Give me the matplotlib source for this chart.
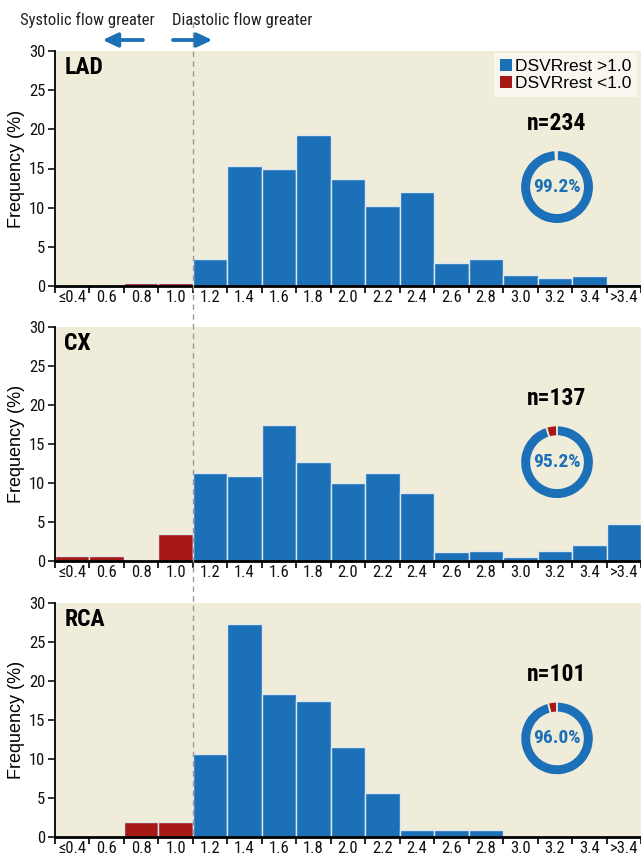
import numpy as np
import matplotlib
matplotlib.use('Agg')
import matplotlib.pyplot as plt
from matplotlib.patches import Patch
from matplotlib.lines import Line2D
from matplotlib import font_manager

# bins of DSVRrest, labels sit in the middle of each bin
bin_labels = ['≤0.4', '0.6', '0.8', '1.0', '1.2', '1.4', '1.6', '1.8', '2.0',
              '2.2', '2.4', '2.6', '2.8', '3.0', '3.2', '3.4', '>3.4']

# frequency (%) per bin
lad_pct = [0, 0, 0.43, 0.43, 3.42, 15.38, 14.96, 19.23, 13.68, 10.26, 11.97,
           3.0, 3.42, 1.4, 1.0, 1.3, 0.2]
cx_pct = [0.6, 0.6, 0, 3.4, 11.3, 10.8, 17.4, 12.65, 10.0, 11.3, 8.7,
          1.1, 1.25, 0.5, 1.25, 2.0, 4.67]
rca_pct = [0, 0, 1.9, 1.9, 10.6, 27.4, 18.4, 17.4, 11.5, 5.66, 0.86,
           0.86, 0.9, 0, 0, 0, 0]

vessels = ['LAD', 'CX', 'RCA']
n_values = [234, 137, 101]
pct_above = [99.2, 95.2, 96.0]
n_below = 4  # first four bins are DSVRrest < 1.0

BLUE = '#1b70b7'
RED = '#a61916'
BG = '#f0ecda'

names = {f.name for f in font_manager.fontManager.ttflist}
narrow = 'DejaVu Sans'
for cand in ['Roboto Condensed', 'Archivo Narrow', 'PT Sans Narrow', 'Barlow Condensed',
             'Open Sans Condensed', 'Liberation Sans Narrow', 'Arial Narrow',
             'IBM Plex Sans Condensed', 'Fira Sans Condensed', 'Encode Sans Condensed']:
    if cand in names:
        narrow = cand
        break
wide = 'Liberation Sans' if 'Liberation Sans' in names else 'DejaVu Sans'
plt.rcParams['font.family'] = [narrow, 'DejaVu Sans']

W, H = 641, 860
fig = plt.figure(figsize=(W / 100, H / 100), dpi=100)

# axes boxes in pixels: (top, bottom)
boxes = [(51, 286), (326.7, 560.7), (603.3, 836.7)]
left_px, right_px = 55, 641

axes = []
for (top, bot), name, vals, n, pct in zip(boxes, vessels, [lad_pct, cx_pct, rca_pct],
                                          n_values, pct_above):
    ax = fig.add_axes([left_px / W, 1 - bot / H, (right_px - left_px) / W, (bot - top) / H])
    ax.set_facecolor(BG)
    x = np.arange(len(bin_labels))
    colors = [RED if i < n_below else BLUE for i in x]
    ax.bar(x + 0.5, vals, width=1, color=colors, edgecolor='#dfe7ee', linewidth=1)
    ax.set_xlim(0, len(bin_labels))
    ax.set_ylim(0, 30)
    ax.set_yticks(range(0, 31, 5))
    ax.set_xticks(np.arange(len(bin_labels) + 1))
    ax.set_xticklabels([])
    ax.set_xticks(x + 0.5, minor=True)
    ax.set_xticklabels(bin_labels, minor=True)
    ax.tick_params(axis='x', which='major', length=5, width=1.2, direction='out')
    ax.tick_params(axis='x', which='minor', length=0, labelsize=12, pad=3, colors='#111111')
    ax.tick_params(axis='y', length=5, width=1.2, labelsize=12, pad=2, colors='#111111')
    for s in ['top', 'right']:
        ax.spines[s].set_visible(False)
    ax.spines['left'].set_linewidth(1.3)
    ax.spines['bottom'].set_linewidth(2)
    ax.set_ylabel('Frequency (%)', family=wide, fontsize=13, labelpad=3)

    ax.text(0.016, 0.93, name, transform=ax.transAxes, ha='left', va='center',
            fontsize=17, fontweight='bold')
    ax.text(0.8567, 0.693, 'n=%d' % n, transform=ax.transAxes, ha='center', va='center',
            fontsize=17, fontweight='bold')

    pie_ax = ax.inset_axes([0.8567 - 0.064, 0.421 - 0.16, 0.128, 0.32])
    pie_ax.pie([100 - pct, pct], colors=[RED, BLUE], startangle=90,
               wedgeprops=dict(width=0.29, edgecolor=BG, linewidth=1.2))
    pie_ax.set_xlim(-1.02, 1.02)
    pie_ax.set_ylim(-1.02, 1.02)
    pie_ax.text(0, 0, '%.1f%%' % pct, ha='center', va='center', color=BLUE,
                fontsize=14, fontweight='bold')
    axes.append(ax)

handles = [Patch(facecolor=BLUE, label='DSVRrest >1.0'),
           Patch(facecolor=RED, label='DSVRrest <1.0')]
leg = axes[0].legend(handles=handles, loc='upper right', bbox_to_anchor=(0.993, 0.99),
                     frameon=True, fancybox=False, facecolor='#f8f6ef', edgecolor='none',
                     framealpha=1, handlelength=0.7, handleheight=0.7, handletextpad=0.2,
                     borderpad=0.3, labelspacing=0.15, borderaxespad=0,
                     prop={'family': wide, 'size': 12.5})

# dashed divider at DSVRrest = 1.0
xd = (left_px + (right_px - left_px) * n_below / len(bin_labels)) / W
fig.add_artist(Line2D([xd, xd], [1 - 22 / H, 1 - 836.7 / H], transform=fig.transFigure,
                      color='#9a9a9a', linestyle=(0, (4, 3)), linewidth=1))

fig.text(20 / W, 1 - 20 / H, 'Systolic flow greater', ha='left', va='center',
         fontsize=12, color='#222222')
fig.text(172 / W, 1 - 20 / H, 'Diastolic flow greater', ha='left', va='center',
         fontsize=12, color='#222222')
arrow = dict(arrowstyle='-|>,head_length=0.9,head_width=0.42', color=BLUE, lw=2.4,
             shrinkA=0, shrinkB=0)
fig.add_artist(plt.annotate('', xy=(103 / W, 1 - 40 / H), xytext=(143 / W, 1 - 40 / H),
                            xycoords='figure fraction', textcoords='figure fraction',
                            arrowprops=arrow))
fig.add_artist(plt.annotate('', xy=(212 / W, 1 - 40 / H), xytext=(173 / W, 1 - 40 / H),
                            xycoords='figure fraction', textcoords='figure fraction',
                            arrowprops=arrow))

fig.savefig('out.png', dpi=100)
